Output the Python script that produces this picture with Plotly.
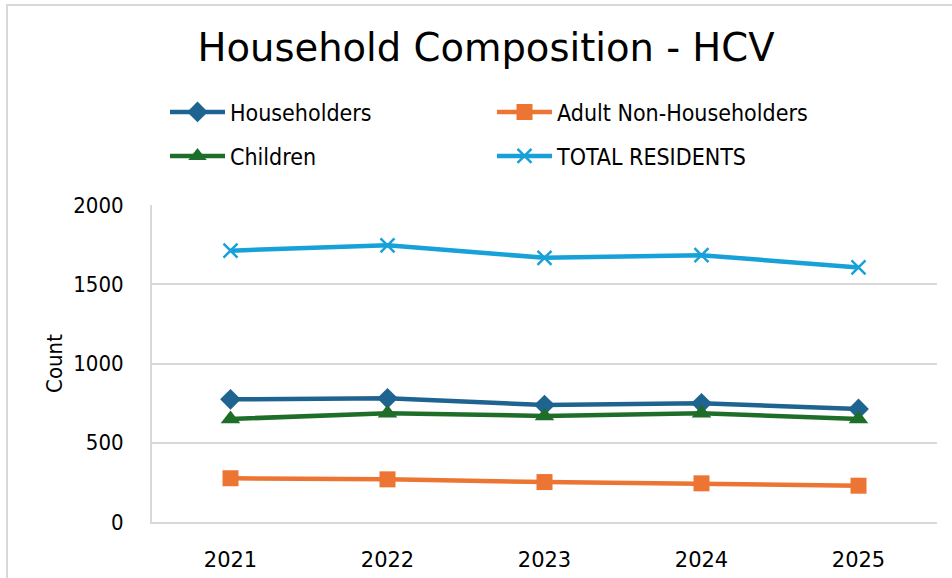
import plotly.graph_objects as go

years = ["2021", "2022", "2023", "2024", "2025"]
householders = [774, 780, 738, 749, 713]
adult_non_householders = [276, 269, 252, 244, 229]
children = [650, 686, 669, 686, 650]
total_residents = [1712, 1746, 1667, 1683, 1606]
y_ticks = [0, 500, 1000, 1500, 2000]

W, H = 952, 578
L, R, T, B = 152, 15, 205, 56

fig = go.Figure()

def add(name, vals, color, symbol, size, legend, mline=None):
    marker = dict(symbol=symbol, size=size, color=color)
    if mline:
        marker["line"] = dict(color=color, width=mline)
    fig.add_trace(go.Scatter(x=years, y=vals, name=name, mode="lines+markers",
                             line=dict(color=color, width=4.5), marker=marker,
                             legend=legend, cliponaxis=False))

add("Householders", householders, "#1F6490", "diamond", 16, "legend")
add("Adult Non-Householders", adult_non_householders, "#ED7533", "square", 16, "legend")
add("Children", children, "#1E6E2A", "triangle-up", 17, "legend2")
add("TOTAL RESIDENTS", total_residents, "#17A1D8", "x-thin-open", 14, "legend2", mline=2.5)

grid = "#d9d9d9"
pw = W - L - R
ph = H - T - B

legfont = dict(family="DejaVu Sans Condensed, DejaVu Sans", size=23, color="#000000")
legcommon = dict(orientation="h", xref="container", x=165 / W, xanchor="left", yref="container",
                 yanchor="middle", entrywidth=257, entrywidthmode="pixels", itemwidth=55,
                 font=legfont, bgcolor="rgba(0,0,0,0)")
fig.update_layout(
    width=W, height=H,
    margin=dict(l=L, r=R, t=T, b=B, autoexpand=False),
    paper_bgcolor="white", plot_bgcolor="white",
    title=dict(text="Household Composition - HCV", x=486 / W, xref="container", xanchor="center",
               y=1 - 48 / H, yref="container", yanchor="middle",
               font=dict(family="DejaVu Sans", size=38.5, color="#000000")),
    showlegend=True,
    legend=dict(legcommon, y=1 - 112 / H),
    legend2=dict(legcommon, y=1 - 156 / H),
    xaxis=dict(type="category", range=[-0.5, 4.5], showgrid=False, showline=True, linecolor=grid,
               linewidth=2, ticks="", ticklabelstandoff=18,
               tickfont=dict(family="DejaVu Sans", size=21, color="#000000")),
    yaxis=dict(range=[0, 2000], tickvals=y_ticks, showgrid=True, gridcolor=grid, gridwidth=2,
               zeroline=False, showline=True, linecolor=grid, linewidth=2, ticks="",
               ticklabelstandoff=22,
               tickfont=dict(family="DejaVu Sans Condensed, DejaVu Sans", size=22, color="#000000"),
               title=dict(text="Count", standoff=5,
                          font=dict(family="DejaVu Sans Condensed, DejaVu Sans", size=22, color="#000000"))),
    shapes=[dict(type="rect", xref="paper", yref="paper",
                 x0=(7 - L) / pw, x1=1.2, y0=-0.5, y1=1 + (T - 5) / ph,
                 line=dict(color=grid, width=2), fillcolor="rgba(0,0,0,0)", layer="below")],
)

fig.write_html("out.html", config={"displayModeBar": False},
               post_script="document.body.style.margin='0';")
